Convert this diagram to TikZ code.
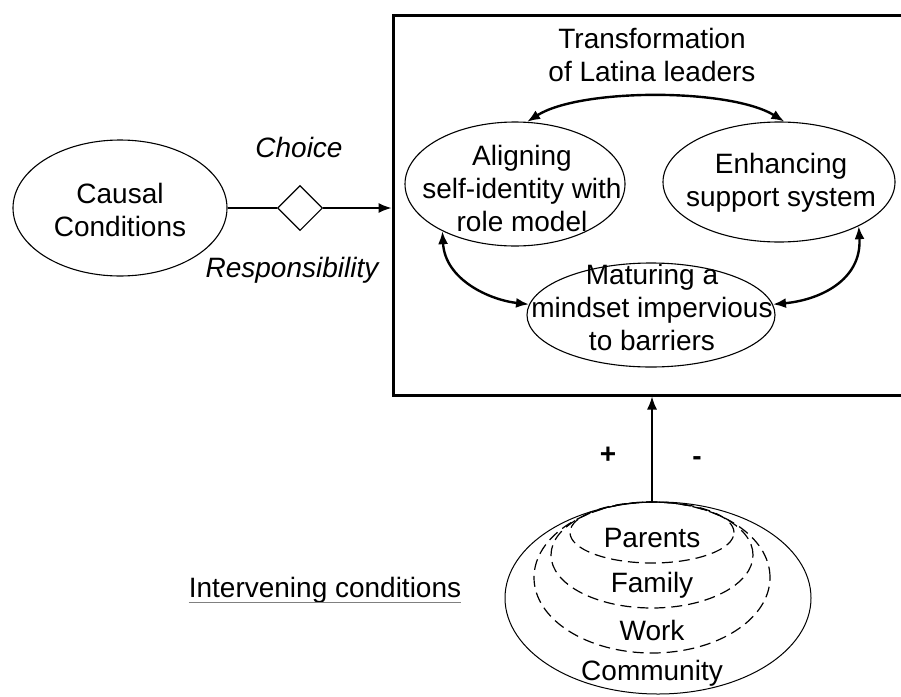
\documentclass[tikz,border=0pt]{standalone}
\usepackage{fontspec}
\setmainfont{Liberation Sans}
\usetikzlibrary{shapes.geometric,arrows.meta}
\begin{document}
\begin{tikzpicture}[x=1pt,y=-1pt,
  font=\fontsize{28}{33}\selectfont,
  oval/.style={ellipse,draw,line width=1.1pt,inner sep=0pt},
  label text/.style={align=center,inner sep=0pt},
  both/.style={line width=2.4pt,{Latex[length=13pt,width=10pt]}-{Latex[length=13pt,width=10pt]}},
  layer/.style={line width=1.2pt,dash pattern=on 11pt off 6pt},
  tip/.style={-{Latex[length=13pt,width=10pt]}}
]
\useasboundingbox (0,0) rectangle (901,696);

% frame of the core category (its right side runs past the page edge)
\node[draw,line width=3pt,minimum width=516pt,minimum height=380pt,inner sep=0pt] (box) at (651,205) {};
\node[label text] (title) at (652,55) {Transformation\\of Latina leaders};

% the three ovals inside the frame
\node[oval,minimum width=220pt,minimum height=124pt] (al) at (515,184) {};
\node[label text] (alt) at (522,188) {Aligning\\self-identity with\\role model};
\node[oval,minimum width=232pt,minimum height=120pt] (en) at (779,182) {};
\node[label text] (ent) at (781,183) {Enhancing\\support system};
\node[oval,minimum width=248pt,minimum height=104pt] (mt) at (651,315) {};
\node[label text] (mtt) at (652,307) {Maturing a\\mindset impervious\\to barriers};

% two-way links between the ovals
\draw[both] (al.79) .. controls (580,88) and (730,88) .. (en.85);
\draw[both] (al.213) .. controls (445,280) and (490,300) .. (mt.175);
\draw[both] (en.331) .. controls (862,280) and (820,300) .. (mt.5);

% causal conditions
\node[oval,minimum width=214pt,minimum height=136pt] (cc) at (120,208) {};
\node[label text] (cct) at (120,210) {Causal\\Conditions};
\node[diamond,draw,line width=1.1pt,minimum width=45pt,minimum height=45pt,inner sep=0pt] (dia) at (300,208) {};
\draw[line width=1.5pt] (cc.east) -- (dia.west);
\draw[line width=1.5pt,tip] (dia.east) -- (box.west |- dia.east);
\node[label text,font=\fontsize{28}{33}\selectfont\itshape] (choice) at (299,147) {Choice};
\node[label text,font=\fontsize{28}{33}\selectfont\itshape] (resp) at (292,270) {Responsibility};

% intervening conditions: nested layers
\draw[line width=1pt] (658,598) ellipse [x radius=153pt, y radius=96pt];
\draw[layer] (652,577.5) ellipse [x radius=118pt, y radius=75.5pt];
\draw[layer] (652,555) ellipse [x radius=101pt, y radius=53pt];
\draw[layer] (652,532.5) ellipse [x radius=82pt, y radius=30.5pt];
\coordinate (nest) at (652,502);
\node[label text] (par) at (652,538) {Parents};
\node[label text] (fam) at (652,585) {Family};
\node[label text] (wrk) at (652,630) {Work};
\node[label text] (com) at (652,673) {Community};
\draw[line width=1.5pt,tip] (nest) -- (nest |- box.south);
\node[label text,font=\fontsize{28}{33}\selectfont\bfseries] (plus) at (608,455) {+};
\node[label text,font=\fontsize{28}{33}\selectfont\bfseries] (minus) at (697,461) {-};

\node[label text] (ic) at (325,590) {Intervening conditions};
\draw[gray,line width=0.8pt] ([yshift=-5pt]ic.base west) -- ([yshift=-5pt]ic.base east);
\end{tikzpicture}
\end{document}
